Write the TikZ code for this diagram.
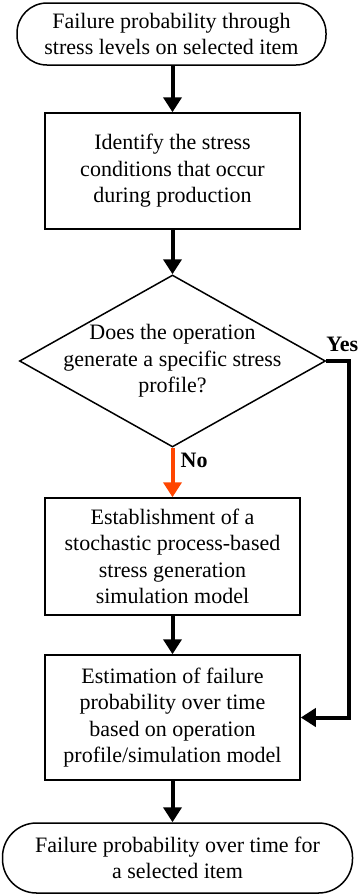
\documentclass[tikz,border=0pt]{standalone}
\usepackage{fontspec}
\setmainfont{Liberation Serif}
\usetikzlibrary{arrows.meta,shapes.geometric}
\definecolor{nored}{HTML}{FF4500}

\begin{document}
\begin{tikzpicture}[x=1pt,y=-1pt,
  txt/.style={align=center,font=\fontsize{22}{26.5}\selectfont},
  term/.style={txt,draw,line width=1.5pt,rounded corners=30pt,minimum width=309pt,minimum height=62pt},
  proc/.style={txt,draw,line width=1.5pt,minimum width=255pt},
  decide/.style={draw,shape=diamond,line width=1.5pt,minimum width=306pt,minimum height=172pt,inner sep=0pt},
  flow/.style={line width=4pt,-{Triangle[length=15pt,width=18pt]}},
  lab/.style={font=\bfseries\fontsize{22}{26}\selectfont,inner sep=0pt}]
\useasboundingbox (0,0) rectangle (360,895);

\path (171.5,34)  node[term] (start) {Failure probability through\\stress levels on selected item};
\path (172.5,171) node[proc,minimum height=116pt] (ident) {Identify the stress\\conditions that occur\\during production};
\path (172.5,361) node[decide,label={[txt]center:Does the operation\\generate a specific stress\\profile?}] (ques) {};
\path (172.5,556.5) node[proc,minimum height=117pt] (estab) {Establishment of a\\stochastic process-based\\stress generation\\simulation model};
\path (172.5,717.5) node[proc,minimum height=125pt] (estim) {Estimation of failure\\probability over time\\based on operation\\profile/simulation model};
\path (177.5,858) node[term,minimum width=350pt,minimum height=70pt,rounded corners=34pt] (stop) {Failure probability over time for\\a selected item};

\path (ques.east)  node[lab,anchor=south west,yshift=9pt] (yes) {Yes};
\path (ques.south) node[lab,anchor=north west,xshift=8pt,yshift=-5pt] (no) {No};

% vertical flow, kept on the x of the boxes
\draw[flow] (ident.north |- start.south) -- (ident.north);
\draw[flow] (ident.south) -- (ques.north);
\draw[flow,nored] (ques.south) -- (estab.north);
\draw[flow] (estab.south) -- (estim.north);
\draw[flow] (estim.south) -- (estim.south |- stop.north);
% yes branch
\draw[flow] (ques.east) -- ++(23,0) |- (estim.east);
\end{tikzpicture}
\end{document}
